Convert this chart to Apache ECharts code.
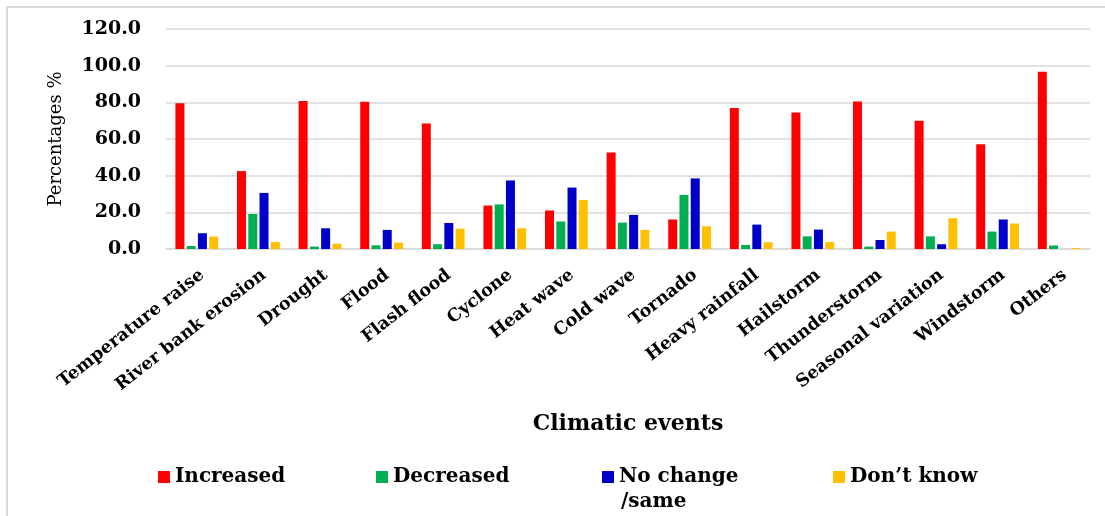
<!DOCTYPE html>
<html>
<head>
<meta charset="utf-8">
<script src="https://cdn.jsdelivr.net/npm/echarts@6/dist/echarts.min.js"></script>
<style>html,body{margin:0;padding:0;background:#fff}#c{width:1105px;height:516px}</style>
</head>
<body>
<div id="c"></div>
<script>
const categories = ["Temperature raise","River bank erosion","Drought","Flood","Flash flood","Cyclone","Heat wave","Cold wave","Tornado","Heavy rainfall","Hailstorm","Thunderstorm","Seasonal variation","Windstorm","Others"];
const seriesNames = ["Increased","Decreased","No change /same","Don\u2019t know"];
const increased = [79.5,42.5,80.7,80.3,68.5,23.7,21.0,52.7,16.1,76.9,74.5,80.5,69.9,57.2,96.7];
const decreased = [1.6,19.1,1.3,2.0,2.6,24.3,15.0,14.4,29.5,2.2,6.9,1.3,6.9,9.5,1.9];
const noChange  = [8.6,30.6,11.3,10.4,14.2,37.4,33.5,18.6,38.5,13.3,10.6,4.9,2.6,16.1,0];
const dontKnow  = [6.8,3.8,2.9,3.5,11.1,11.3,26.8,10.4,12.4,3.7,3.8,9.5,16.8,13.9,0.5];
const yTicks = [0,20,40,60,80,100,120];
const colors = ["#FF0000","#00B050","#0000C8","#FFC000"];
const values = [increased, decreased, noChange, dontKnow];

const chart = echarts.init(document.getElementById('c'), null, {renderer:'canvas'});
const serif = '"DejaVu Serif", serif';
const legendLefts = [158, 376, 602, 833];
const legendFont = {fontFamily:serif, fontWeight:'bold', fontSize:20, color:'#000'};
const legends = seriesNames.map((n,i)=>({
  show:true, left: legendLefts[i], top: 467, orient:'horizontal', padding:0,
  data:[n], icon:'rect', itemWidth:12, itemHeight:12, itemGap:8,
  selectedMode:false,
  formatter: function(name){ return name.split(' /')[0]; },
  textStyle: legendFont
}));
// second line of the wrapped legend label "No change /same"
const wrapped = seriesNames[2].split(' /');
chart.setOption({
  animation:false,
  color: colors,
  graphic:[
    {type:'rect', shape:{x:7,y:7,width:1110,height:520}, style:{fill:'none', stroke:'#DADADA', lineWidth:2}, silent:true},
    {type:'text', left:legendLefts[2]+19, top:492, style:{text:'/' + wrapped[1], fill:'#000', font:'bold 20px "DejaVu Serif", serif'}, silent:true}
  ],
  legend: legends,
  grid:{left:166, right:15, top:29, bottom:267, containLabel:false},
  xAxis:{
    type:'category', data:categories,
    axisLine:{show:true, lineStyle:{color:'#D9D9D9', width:1.5}},
    axisTick:{show:false},
    axisLabel:{interval:0, rotate:38, margin:17, align:'right', verticalAlign:'top', fontFamily:serif, fontWeight:'bold', fontSize:17.5, color:'#000'},
    name:'Climatic events', nameLocation:'middle', nameGap:164,
    nameTextStyle:{fontFamily:serif, fontWeight:'bold', fontSize:22, color:'#000'}
  },
  yAxis:{
    type:'value', min:yTicks[0], max:yTicks[yTicks.length-1], interval:yTicks[1]-yTicks[0],
    axisLine:{show:false}, axisTick:{show:false},
    splitLine:{lineStyle:{color:'#D9D9D9', width:1.5}},
    axisLabel:{margin:25, fontFamily:serif, fontWeight:'bold', fontSize:19, color:'#000', formatter:v=>v.toFixed(1)},
    name:'Percentages %', nameLocation:'middle', nameGap:101,
    nameTextStyle:{fontFamily:serif, fontSize:18, color:'#000'}
  },
  series: seriesNames.map((n,i)=>({
    name:n, type:'bar', data:values[i], barWidth:9, barGap:'25%',
    itemStyle:{color:colors[i]}
  }))
});
</script>
</body>
</html>
